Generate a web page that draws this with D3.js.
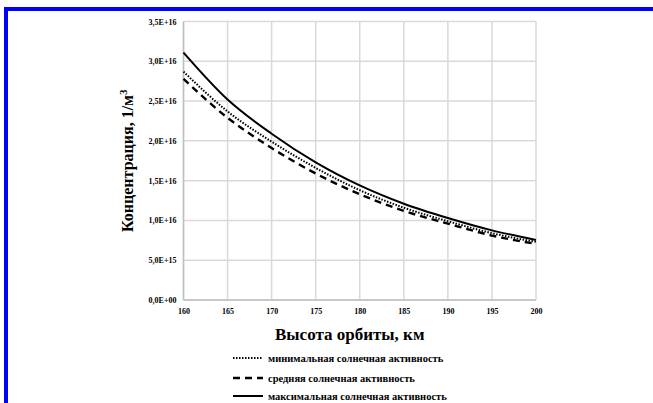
<!DOCTYPE html>
<html>
<head>
<meta charset="utf-8">
<script src="https://cdn.jsdelivr.net/npm/d3@7/dist/d3.min.js"></script>
<style>
  html, body { margin: 0; padding: 0; background: #fff; }
  svg { display: block; }
  text { font-family: "Liberation Serif", "Times New Roman", serif; font-weight: bold; fill: #000; }
</style>
</head>
<body>
<svg id="chart" width="653" height="403"></svg>
<script>
// Orbit altitude, km
const altitudes = [160, 165, 170, 175, 180, 185, 190, 195, 200];
// Concentration, 1/m^3 (in units of 1e16)
const minActivity = [2.87, 2.37, 1.99, 1.66, 1.38, 1.16, 0.99, 0.84, 0.73];
const midActivity = [2.78, 2.29, 1.91, 1.59, 1.33, 1.12, 0.96, 0.81, 0.705];
const maxActivity = [3.11, 2.52, 2.09, 1.73, 1.44, 1.21, 1.03, 0.875, 0.755];

const yTicks = [0, 0.5e16, 1.0e16, 1.5e16, 2.0e16, 2.5e16, 3.0e16, 3.5e16];
const yTickLabels = ["0,0E+00", "5,0E+15", "1,0E+16", "1,5E+16", "2,0E+16", "2,5E+16", "3,0E+16", "3,5E+16"];
const xTickLabels = ["160", "165", "170", "175", "180", "185", "190", "195", "200"];

const xTitle = "Высота орбиты, км";
const yTitle = "Концентрация, 1/м";
const legendLabels = [
  "минимальная солнечная активность",
  "средняя солнечная активность",
  "максимальная солнечная активность"
];

const svg = d3.select("#chart");

// blue frame along the top and left edges
svg.append("rect")
  .attr("x", 6).attr("y", 9)
  .attr("width", 700).attr("height", 450)
  .attr("fill", "none")
  .attr("stroke", "#0000ff")
  .attr("stroke-width", 4);

const plot = { left: 183.5, right: 536, top: 21.5, bottom: 300 };

const x = d3.scaleLinear().domain([160, 200]).range([plot.left, plot.right]);
const y = d3.scaleLinear().domain([0, 3.5e16]).range([plot.bottom, plot.top]);

// gridlines
const grid = svg.append("g");
grid.selectAll("line.v")
  .data(altitudes)
  .join("line")
  .attr("x1", d => x(d)).attr("x2", d => x(d))
  .attr("y1", plot.top).attr("y2", plot.bottom)
  .attr("stroke", "#d9d9d9").attr("stroke-width", 1.5);
grid.selectAll("line.h")
  .data(yTicks)
  .join("line")
  .attr("x1", plot.left).attr("x2", plot.right)
  .attr("y1", d => y(d)).attr("y2", d => y(d))
  .attr("stroke", "#d9d9d9").attr("stroke-width", 1.5);

// axis lines
svg.append("line")
  .attr("x1", plot.left).attr("x2", plot.left)
  .attr("y1", plot.top).attr("y2", plot.bottom)
  .attr("stroke", "#bfbfbf").attr("stroke-width", 1.5);
svg.append("line")
  .attr("x1", plot.left).attr("x2", plot.right)
  .attr("y1", plot.bottom).attr("y2", plot.bottom)
  .attr("stroke", "#bfbfbf").attr("stroke-width", 1.5);

// y axis labels
const yAxis = d3.axisLeft(y)
  .tickValues(yTicks)
  .tickSize(0)
  .tickPadding(7)
  .tickFormat((d, i) => yTickLabels[i]);
const gy = svg.append("g").attr("transform", `translate(${plot.left},0)`).call(yAxis);
gy.select(".domain").remove();
gy.selectAll("text")
  .style("font-family", "'Liberation Serif', serif")
  .style("font-weight", "bold")
  .style("font-size", "8px")
  .attr("fill", "#000");

// x axis labels
const xAxis = d3.axisBottom(x)
  .tickValues(altitudes)
  .tickSize(0)
  .tickPadding(8)
  .tickFormat((d, i) => xTickLabels[i]);
const gx = svg.append("g").attr("transform", `translate(0,${plot.bottom})`).call(xAxis);
gx.select(".domain").remove();
gx.selectAll("text")
  .style("font-family", "'Liberation Serif', serif")
  .style("font-weight", "bold")
  .style("font-size", "8px")
  .attr("fill", "#000");

// series
const series = [
  { values: minActivity, dash: "1.5,1.5", width: 2 },
  { values: midActivity, dash: "7,5", width: 2.4 },
  { values: maxActivity, dash: null, width: 2 }
];

const line = d3.line()
  .x(d => x(d[0]))
  .y(d => y(d[1] * 1e16))
  .curve(d3.curveMonotoneX);

series.forEach(s => {
  svg.append("path")
    .datum(altitudes.map((a, i) => [a, s.values[i]]))
    .attr("d", line)
    .attr("fill", "none")
    .attr("stroke", "#000")
    .attr("stroke-width", s.width)
    .attr("stroke-dasharray", s.dash);
});

// axis titles
svg.append("text")
  .attr("x", (plot.left + plot.right) / 2 - 10)
  .attr("y", 340)
  .attr("text-anchor", "middle")
  .style("font-size", "17px")
  .text(xTitle);

const yt = svg.append("text")
  .attr("transform", `translate(133,${(plot.top + plot.bottom) / 2}) rotate(-90)`)
  .attr("text-anchor", "middle")
  .style("font-size", "16px");
yt.append("tspan").text(yTitle);
yt.append("tspan").attr("dy", -6).style("font-size", "11px").text("3");

// legend
const legendY = [358, 378, 396];
const legend = svg.append("g");
series.forEach((s, i) => {
  legend.append("line")
    .attr("x1", 233).attr("x2", 263)
    .attr("y1", legendY[i]).attr("y2", legendY[i])
    .attr("stroke", "#000")
    .attr("stroke-width", s.width)
    .attr("stroke-dasharray", s.dash);
  legend.append("text")
    .attr("x", 268).attr("y", legendY[i] + 3.5)
    .style("font-size", "10.5px")
    .text(legendLabels[i]);
});
</script>
</body>
</html>
